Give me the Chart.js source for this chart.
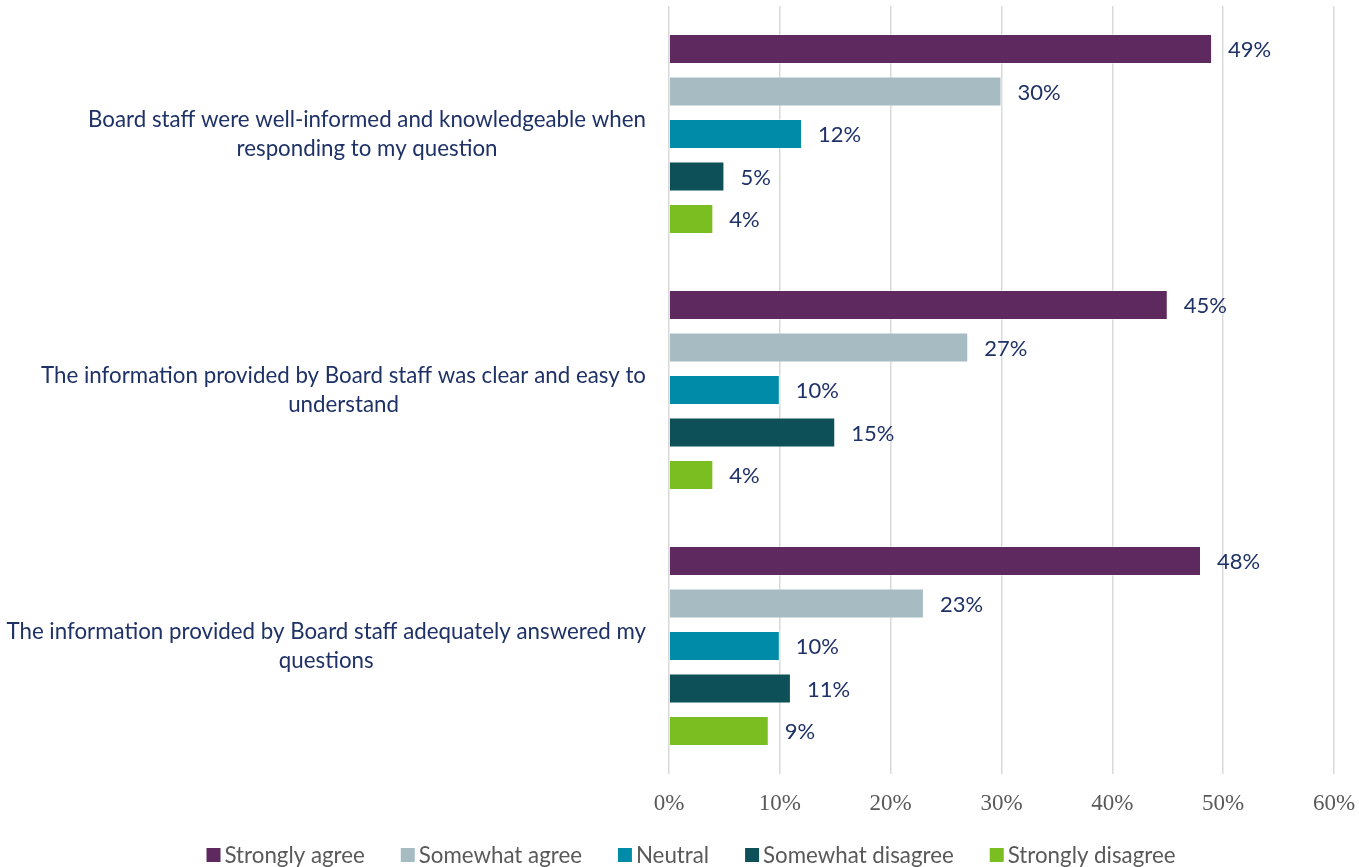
<!DOCTYPE html>
<html>
<head>
<meta charset="utf-8">
<script src="https://cdn.jsdelivr.net/npm/chart.js@4/dist/chart.umd.min.js"></script>
<style>
  html, body { margin: 0; padding: 0; background: #fff; }
  #wrap { width: 1359px; height: 867px; position: relative; }
</style>
</head>
<body>
<div id="wrap"><canvas id="chart"></canvas></div>
<script>
const categories = [
  ['Board staff were well-informed and knowledgeable when', 'responding to my question'],
  ['The information provided by Board staff was clear and easy to', 'understand'],
  ['The information provided by Board staff adequately answered my', 'questions'],
];
const seriesNames   = ['Strongly agree', 'Somewhat agree', 'Neutral', 'Somewhat disagree', 'Strongly disagree'];
const stronglyAgree    = [49, 45, 48];
const somewhatAgree    = [30, 27, 23];
const neutral          = [12, 10, 10];
const somewhatDisagree = [5, 15, 11];
const stronglyDisagree = [4, 4, 9];
const xTicks = [0, 10, 20, 30, 40, 50, 60];

const COLORS = ['#5E295E', '#A6BCC2', '#008CA8', '#0D5057', '#7ABE22'];
const NAVY = '#1F3267';
const GREY = '#595959';
const SANS = 'Lato, "Open Sans", sans-serif';

const values = [stronglyAgree, somewhatAgree, neutral, somewhatDisagree, stronglyDisagree];

// category labels: each block right-aligned, lines centred inside the block
const catLabels = {
  id: 'catLabels',
  afterDraw(chart) {
    const { ctx } = chart;
    const y = chart.scales.y;
    const right = 646;
    const lh = 29;
    ctx.save();
    ctx.font = '22.3px ' + SANS;
    ctx.fillStyle = NAVY;
    ctx.textAlign = 'center';
    ctx.textBaseline = 'middle';
    categories.forEach((lines, i) => {
      const w = Math.max(...lines.map(l => ctx.measureText(l).width));
      const cx = right - w / 2;
      const cy = y.getPixelForValue(i);
      lines.forEach((l, j) => {
        ctx.fillText(l, cx, cy + (j - (lines.length - 1) / 2) * lh);
      });
    });
    ctx.restore();
  }
};

// value labels at the end of each bar
const valueLabels = {
  id: 'valueLabels',
  afterDatasetsDraw(chart) {
    const { ctx } = chart;
    ctx.save();
    ctx.font = '22px ' + SANS;
    ctx.fillStyle = NAVY;
    ctx.textAlign = 'left';
    ctx.textBaseline = 'middle';
    chart.data.datasets.forEach((ds, di) => {
      chart.getDatasetMeta(di).data.forEach((bar, i) => {
        ctx.fillText(ds.data[i] + '%', bar.x + 16, bar.y + 1);
      });
    });
    ctx.restore();
  }
};

// legend along the bottom
const bottomLegend = {
  id: 'bottomLegend',
  afterDraw(chart) {
    const { ctx } = chart;
    const box = 14, gap = 4, spacing = 36;
    ctx.save();
    ctx.font = '22.3px ' + SANS;
    ctx.textBaseline = 'middle';
    ctx.textAlign = 'left';
    const items = chart.data.datasets.map(ds => ({
      label: ds.label, color: ds.backgroundColor, w: box + gap + ctx.measureText(ds.label).width
    }));
    const total = items.reduce((s, it) => s + it.w, 0) + spacing * (items.length - 1);
    let x = 691 - total / 2;
    const cy = 855;
    items.forEach(it => {
      ctx.fillStyle = it.color;
      ctx.fillRect(x, cy - box / 2, box, box);
      ctx.fillStyle = GREY;
      ctx.fillText(it.label, x + box + gap, cy + 1);
      x += it.w + spacing;
    });
    ctx.restore();
  }
};

new Chart(document.getElementById('chart'), {
  type: 'bar',
  data: {
    labels: categories,
    datasets: seriesNames.map((name, i) => ({
      label: name,
      data: values[i],
      backgroundColor: COLORS[i],
      borderColor: 'rgba(255,255,255,0.5)',
      borderWidth: 1,
      categoryPercentage: 0.83,
      barPercentage: 0.706,
    })),
  },
  options: {
    indexAxis: 'y',
    responsive: true,
    maintainAspectRatio: false,
    animation: false,
    layout: { padding: { left: 0, right: 25, top: 6, bottom: 50 } },
    plugins: {
      legend: { display: false },
      tooltip: { enabled: false },
    },
    scales: {
      x: {
        min: 0,
        max: 60,
        afterBuildTicks(scale) { scale.ticks = xTicks.map(v => ({ value: v })); },
        afterFit(scale) {
          scale.height = 43;
          scale.paddingLeft = 0;
          scale.paddingRight = 0;
        },
        border: { display: false },
        grid: { color: '#D9D9D9', lineWidth: 1.5, drawTicks: false },
        ticks: {
          padding: 16,
          color: GREY,
          font: { family: '"Liberation Serif", "Times New Roman", serif', size: 23 },
          callback: v => v + '%',
        },
      },
      y: {
        afterFit(scale) { scale.width = 669; },
        border: { display: false },
        grid: { display: false },
        ticks: { display: false },
      },
    },
  },
  plugins: [catLabels, valueLabels, bottomLegend],
});
</script>
</body>
</html>
